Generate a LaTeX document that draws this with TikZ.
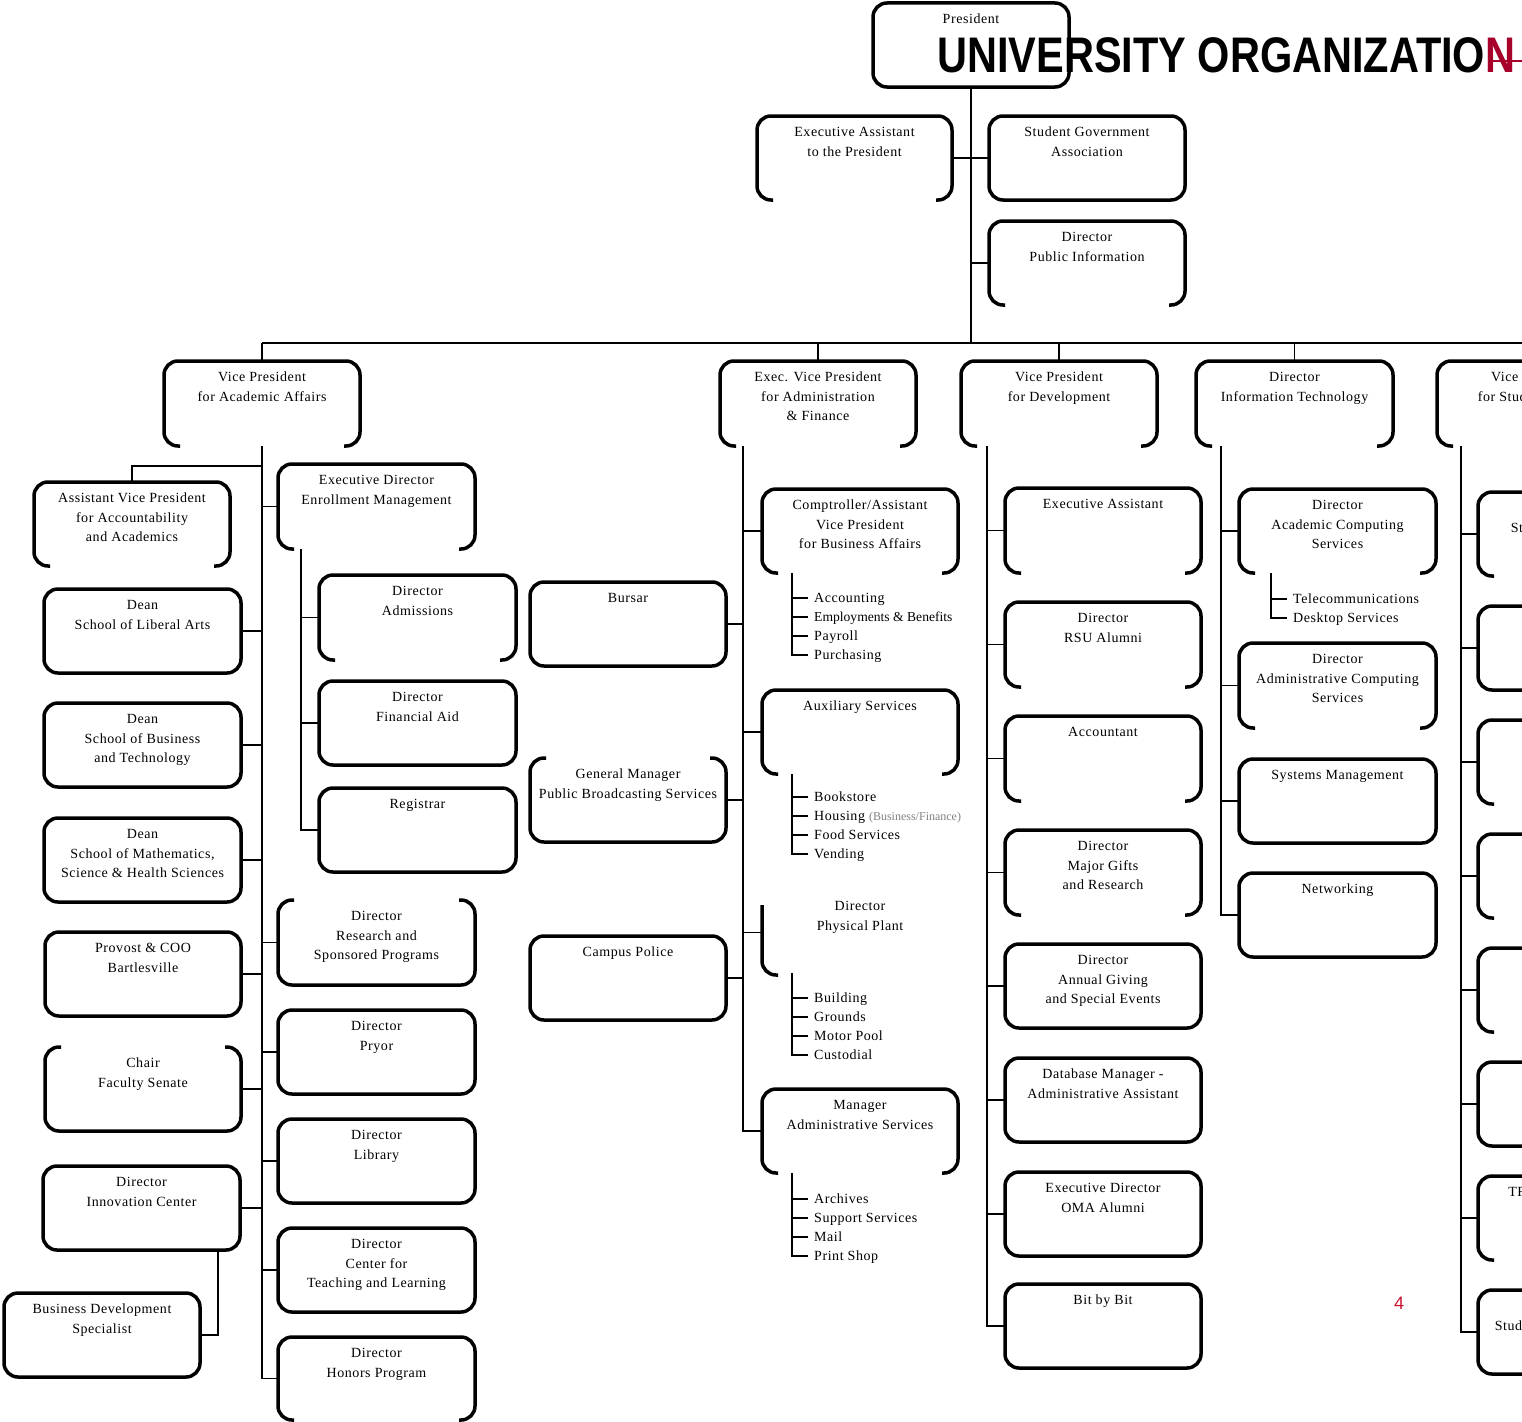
\documentclass[tikz,border=0pt]{standalone}
\usepackage{graphicx}
\usepackage{fontspec}
\setmainfont{Liberation Serif}[LetterSpace=4.0]
\newfontfamily\plainserif{Liberation Serif}
\newfontfamily\titlefont{Liberation Sans}
\usetikzlibrary{calc}
\definecolor{rsured}{RGB}{166,0,43}
\definecolor{pgred}{RGB}{200,20,50}
\tikzset{
  shp/.style={draw=none, rectangle, inner sep=0pt, outer sep=0pt},
  lbl/.style={anchor=north, inner sep=0pt, align=center, font=\fontsize{14}{19.5}\selectfont},
  item/.style={anchor=west, inner xsep=6pt, inner ysep=0pt, text height=10pt, text depth=1pt, font=\fontsize{14}{19}\selectfont},
  boxline/.style={line width=3.5pt, rounded corners=14pt},
  conn/.style={line width=1.6pt},
}
\newcommand\brdc[1]{\draw[boxline] (#1.south west) rectangle (#1.north east);}
\newcommand\brdb[1]{\draw[boxline] ([xshift=16pt]#1.south west) -- (#1.south west) -- (#1.north west) -- (#1.north east) -- (#1.south east) -- ([xshift=-16pt]#1.south east);}
\newcommand\brdt[1]{\draw[boxline] ([xshift=16pt]#1.north west) -- (#1.north west) -- (#1.south west) -- (#1.south east) -- (#1.north east) -- ([xshift=-16pt]#1.north east);}
\newcommand\brdp[1]{\draw[boxline] ([yshift=-15pt]#1.north west) -- (#1.south west) -- ([xshift=16pt]#1.south west);}
\newcommand\bx[7]{%
  \node[shp, minimum width={#4-#2}, minimum height={#5-#3}] (#1) at ({(#2+#4)/2},{(#3+#5)/2}) {};
  \node[lbl] (#1-l) at ([yshift=-10.5pt]#1.north) {\rule{0pt}{10pt}#7};
  \csname brd#6\endcsname{#1}%
}
\begin{document}
\begin{tikzpicture}[x=1pt,y=-1pt]
\useasboundingbox (0,0) rectangle (1522,1421);
\clip (0,0) rectangle (1522,1421);

% ---------- top ----------
\bx{pres}{873}{3}{1069}{87}{c}{President}
\bx{eap}{757}{116}{952}{200}{b}{Executive Assistant\\to the President}
\bx{sga}{989}{116}{1185}{200}{c}{Student Government\\Association}
\bx{dpi}{989}{221}{1185}{305}{b}{Director\\Public Information}

% ---------- second level ----------
\bx{vpaa}{164}{361}{360}{446}{b}{Vice President\\for Academic Affairs}
\bx{evp}{720}{361}{916}{446}{b}{Exec. Vice President\\for Administration\\\& Finance}
\bx{vpd}{961}{361}{1157}{446}{b}{Vice President\\for Development}
\bx{dit}{1196}{361}{1393}{446}{b}{Director\\Information Technology}
\bx{vps}{1437}{361}{1633}{446}{b}{Vice President\\for Student Affairs}

% ---------- academic affairs ----------
\bx{avp}{34}{482}{230}{566}{b}{Assistant Vice President\\for Accountability\\and Academics}
\bx{dla}{44}{589}{241}{673}{c}{Dean\\School of Liberal Arts}
\bx{dbt}{44}{703}{241}{787}{c}{Dean\\School of Business\\and Technology}
\bx{dms}{44}{818}{241}{902}{c}{Dean\\School of Mathematics,\\Science \& Health Sciences}
\bx{prv}{45}{932}{241}{1016}{c}{Provost \& COO\\Bartlesville}
\bx{cfs}{45}{1047}{241}{1131}{t}{Chair\\Faculty Senate}
\bx{dic}{43}{1166}{240}{1250}{c}{Director\\Innovation Center}
\bx{bds}{4}{1293}{200}{1377}{c}{Business Development\\Specialist}

\bx{edem}{278}{464}{475}{549}{b}{Executive Director\\Enrollment Management}
\bx{dad}{319}{575}{516}{660}{b}{Director\\Admissions}
\bx{dfa}{319}{681}{516}{765}{c}{Director\\Financial Aid}
\bx{reg}{319}{788}{516}{872}{c}{Registrar}
\bx{drs}{278}{900}{475}{985}{t}{Director\\Research and\\Sponsored Programs}
\bx{dpr}{278}{1010}{475}{1094}{c}{Director\\Pryor}
\bx{dlb}{278}{1119}{475}{1203}{c}{Director\\Library}
\bx{dct}{278}{1228}{475}{1312}{c}{Director\\Center for\\Teaching and Learning}
\bx{dhp}{278}{1337}{475}{1420}{b}{Director\\Honors Program}

% ---------- administration & finance ----------
\bx{bur}{530}{582}{726}{666}{c}{Bursar}
\bx{gmp}{530}{758}{726}{842}{t}{General Manager\\Public Broadcasting Services}
\bx{cpl}{530}{936}{726}{1020}{c}{Campus Police}
\bx{cmp}{762}{489}{958}{573}{b}{Comptroller/Assistant\\Vice President\\for Business Affairs}
\bx{aux}{762}{690}{958}{774}{b}{Auxiliary Services}
\bx{dpp}{762}{890}{958}{975}{p}{Director\\Physical Plant}
\bx{mas}{762}{1089}{958}{1173}{b}{Manager\\Administrative Services}

% ---------- development ----------
\bx{dea}{1005}{488}{1201}{573}{b}{Executive Assistant}
\bx{ral}{1005}{602}{1201}{687}{b}{Director\\RSU Alumni}
\bx{acct}{1005}{716}{1201}{801}{b}{Accountant}
\bx{dmg}{1005}{830}{1201}{915}{b}{Director\\Major Gifts\\and Research}
\bx{dag}{1005}{944}{1201}{1028}{c}{Director\\Annual Giving\\and Special Events}
\bx{dbm}{1005}{1058}{1201}{1142}{c}{Database Manager -\\Administrative Assistant}
\bx{oma}{1005}{1172}{1201}{1256}{c}{Executive Director\\OMA Alumni}
\bx{bit}{1005}{1284}{1201}{1368}{c}{Bit by Bit}

% ---------- information technology ----------
\bx{dac}{1239}{489}{1436}{573}{b}{Director\\Academic Computing\\Services}
\bx{dadm}{1239}{643}{1436}{728}{b}{Director\\Administrative Computing\\Services}
\bx{sys}{1239}{759}{1436}{843}{c}{Systems Management}
\bx{net}{1239}{873}{1436}{957}{c}{Networking}

% ---------- student affairs ----------
\bx{s1}{1478}{492}{1675}{576}{b}{Director\\Student Development}
\bx{s2}{1478}{606}{1675}{690}{c}{}
\bx{s3}{1478}{720}{1675}{804}{b}{}
\bx{s4}{1478}{834}{1675}{918}{b}{Director\\Intramural Sports}
\bx{s5}{1478}{948}{1675}{1032}{b}{}
\bx{s6}{1478}{1062}{1675}{1146}{c}{}
\bx{s7}{1478}{1176}{1675}{1260}{b}{TRIO Student Support\\Services}
\bx{s8}{1478}{1290}{1675}{1374}{c}{Director\\Student Health \& Wellness}

% ---------- connectors: top ----------
\coordinate (busL) at (262,343);
\coordinate (busR) at (1560,343);
\draw[conn] (pres.south) -- (pres.south |- busL);
\draw[conn] (busL) -- (busR);
\foreach \n in {vpaa,evp,vpd,dit,vps} \draw[conn] (\n.north) -- (\n.north |- busL);
\draw[conn] (eap.east) -- (sga.west);
\draw[conn] (dpi.west) -- (dpi.west -| pres.south);

% ---------- connectors: academic affairs ----------
\draw[conn] (vpaa.south) -- (vpaa.south |- dhp.west);
\coordinate (avpJ) at ([yshift=-20pt]vpaa.south);
\draw[conn] (avp.north) |- (avpJ);
\foreach \n in {dla,dbt,dms,prv,cfs,dic} \draw[conn] (\n.east) -- (\n.east -| vpaa.south);
\foreach \n in {edem,drs,dpr,dlb,dct,dhp} \draw[conn] (\n.west) -- (\n.west -| vpaa.south);
\coordinate (edT) at ([xshift=23pt]edem.south west);
\draw[conn] (edT) |- (reg.west);
\foreach \n in {dad,dfa} \draw[conn] (\n.west) -- (\n.west -| edT);
\coordinate (dicJ) at ([xshift=-22pt]dic.south east);
\draw[conn] (bds.east) -| (dicJ);

% ---------- connectors: administration ----------
\coordinate (evT) at ([xshift=23pt]evp.south west);
\draw[conn] (evT) |- (mas.west);
\foreach \n in {bur,gmp,cpl} \draw[conn] (\n.east) -- (\n.east -| evT);
\foreach \n in {cmp,aux,dpp} \draw[conn] (\n.west) -- (\n.west -| evT);

% sub-lists
\node[item] (cmp1) at (808,598) {Accounting};
\node[item] (cmp2) at (808,617) {\plainserif\fontsize{13.6}{19}\selectfont Employments \& Benefits};
\node[item] (cmp3) at (808,636) {Payroll};
\node[item] (cmp4) at (808,655) {Purchasing};
\coordinate (cmpT) at ([xshift=30pt]cmp.south west);
\draw[conn] (cmpT) |- (cmp4.west);
\foreach \n in {cmp1,cmp2,cmp3} \draw[conn] (\n.west) -- (\n.west -| cmpT);

\node[item] (aux1) at (808,797) {Bookstore};
\node[item] (aux2) at (808,816) {Housing {\plainserif\fontsize{12}{12}\selectfont\color{gray}(Business/Finance)}};
\node[item] (aux3) at (808,835) {Food Services};
\node[item] (aux4) at (808,854) {Vending};
\coordinate (auxT) at ([xshift=30pt]aux.south west);
\draw[conn] (auxT) |- (aux4.west);
\foreach \n in {aux1,aux2,aux3} \draw[conn] (\n.west) -- (\n.west -| auxT);

\node[item] (dpp1) at (808,998) {Building};
\node[item] (dpp2) at (808,1017) {Grounds};
\node[item] (dpp3) at (808,1036) {Motor Pool};
\node[item] (dpp4) at (808,1055) {Custodial};
\coordinate (dppT) at ([xshift=30pt,yshift=2pt]dpp.south west);
\draw[conn] (dppT) |- (dpp4.west);
\foreach \n in {dpp1,dpp2,dpp3} \draw[conn] (\n.west) -- (\n.west -| dppT);

\node[item] (mas1) at (808,1199) {Archives};
\node[item] (mas2) at (808,1218) {Support Services};
\node[item] (mas3) at (808,1237) {Mail};
\node[item] (mas4) at (808,1256) {Print Shop};
\coordinate (masT) at ([xshift=30pt]mas.south west);
\draw[conn] (masT) |- (mas4.west);
\foreach \n in {mas1,mas2,mas3} \draw[conn] (\n.west) -- (\n.west -| masT);

% ---------- connectors: development ----------
\coordinate (vdT) at ([xshift=26pt]vpd.south west);
\draw[conn] (vdT) |- (bit.west);
\foreach \n in {dea,ral,acct,dmg,dag,dbm,oma} \draw[conn] (\n.west) -- (\n.west -| vdT);

% ---------- connectors: IT ----------
\coordinate (diT) at ([xshift=25pt]dit.south west);
\draw[conn] (diT) |- (net.west);
\foreach \n in {dac,dadm,sys} \draw[conn] (\n.west) -- (\n.west -| diT);
\node[item] (dac1) at (1287,599) {Telecommunications};
\node[item] (dac2) at (1287,618) {Desktop Services};
\coordinate (dacT) at ([xshift=32pt]dac.south west);
\draw[conn] (dacT) |- (dac2.west);
\draw[conn] (dac1.west) -- (dac1.west -| dacT);

% ---------- connectors: student affairs ----------
\coordinate (vsT) at ([xshift=24pt]vps.south west);
\draw[conn] (vsT) |- (s8.west);
\foreach \n in {s1,s2,s3,s4,s5,s6,s7} \draw[conn] (\n.west) -- (\n.west -| vsT);

% ---------- title and page number ----------
\node[anchor=base west, inner sep=0pt] (title) at (937,73)
  {\titlefont\bfseries\fontsize{50}{50}\selectfont\scalebox{0.83}[1]{UNIVERSITY ORGANIZATIO\textcolor{rsured}{N}}};
\draw[rsured, line width=2.2pt] (1490,61) -- (1525,61);
\node[font=\titlefont\fontsize{18}{18}\selectfont, text=pgred] (pgnum) at (1399,1303) {4};
\end{tikzpicture}
\end{document}
